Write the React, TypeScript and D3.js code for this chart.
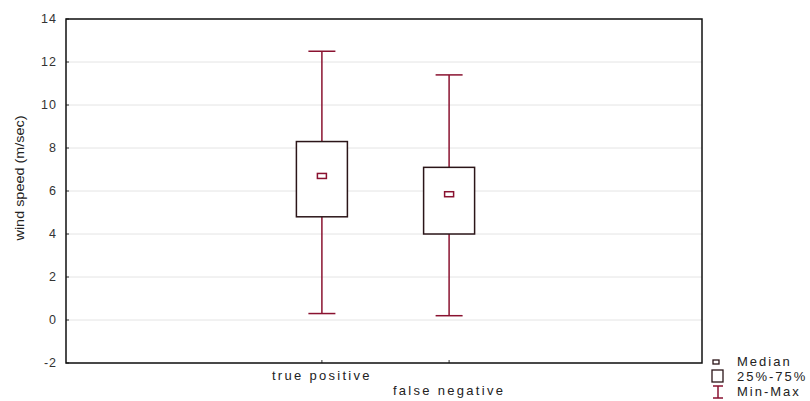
import React from 'react';
import * as d3 from 'd3';

// data
const categories = ['true positive', 'false negative'];
const minVals = [0.3, 0.2];
const q1Vals = [4.8, 4.0];
const medianVals = [6.7, 5.85];
const q3Vals = [8.3, 7.1];
const maxVals = [12.5, 11.4];
const yTicks = [-2, 0, 2, 4, 6, 8, 10, 12, 14];
const legendItems = ['Median', '25%-75%', 'Min-Max'];

const W = 810;
const H = 401;
const left = 66, right = 702, top = 19, bottom = 363;

const font = 'Arial, "Liberation Sans", sans-serif';
const red = '#8a1230';
const boxColor = '#2b1518';

const App = () => {
  const y = d3.scaleLinear().domain([-2, 14]).range([bottom, top]);
  // categories sit at slots 2 and 3 of a 5 slot axis
  const x = d3.scaleLinear().domain([0, 5]).range([left + 1.5, right + 1.5]);
  const boxW = 51;
  const capW = 27;

  return (
    <svg width={W} height={H} style={{ position: 'absolute', left: 0, top: 0, background: '#fff' }}
      fontFamily={font}>
      {/* grid */}
      {yTicks.map(t => (
        <line key={'g' + t} x1={left} x2={right} y1={y(t)} y2={y(t)} stroke="#e4e4e4" strokeWidth={1} />
      ))}
      {/* y ticks + labels */}
      {yTicks.map(t => (
        <g key={'t' + t}>
          <line x1={left} x2={left + 3} y1={y(t)} y2={y(t)} stroke="#333" />
          <text x={57} y={y(t) + 4} textAnchor="end" fontSize={12.5} letterSpacing={1} fill="#333">{t}</text>
        </g>
      ))}
      <text transform={`translate(24,${(top + bottom) / 2 - 13}) rotate(-90)`} textAnchor="middle"
        fontSize={12} fill="#222" textLength={125} lengthAdjust="spacingAndGlyphs">wind speed (m/sec)</text>

      {/* boxes */}
      {categories.map((c, i) => {
        const cx = x(i + 2);
        return (
          <g key={c}>
            <line x1={cx} x2={cx} y1={y(maxVals[i])} y2={y(q3Vals[i])} stroke={red} strokeWidth={1.5} />
            <line x1={cx} x2={cx} y1={y(q1Vals[i])} y2={y(minVals[i])} stroke={red} strokeWidth={1.5} />
            <line x1={cx - capW / 2} x2={cx + capW / 2} y1={y(maxVals[i])} y2={y(maxVals[i])} stroke={red} strokeWidth={1.5} />
            <line x1={cx - capW / 2} x2={cx + capW / 2} y1={y(minVals[i])} y2={y(minVals[i])} stroke={red} strokeWidth={1.5} />
            <rect x={cx - boxW / 2} y={y(q3Vals[i])} width={boxW} height={y(q1Vals[i]) - y(q3Vals[i])}
              fill="#fff" stroke={boxColor} strokeWidth={1.5} />
            <rect x={cx - 4.5} y={y(medianVals[i]) - 2.5} width={9} height={5} fill="#fff" stroke={red} strokeWidth={1.5} />
            <line x1={cx} x2={cx} y1={bottom} y2={bottom - 3} stroke="#333" />
            <text x={cx} y={i === 0 ? 380 : 395} textAnchor="middle" fontSize={13} fill="#222"
              letterSpacing={2.3}>{c}</text>
          </g>
        );
      })}

      {/* frame */}
      <rect x={left} y={top} width={right - left} height={bottom - top} fill="none" stroke="#111" strokeWidth={1.5} />

      {/* legend */}
      <g fontSize={13} fill="#222" letterSpacing={2}>
        <rect x={713} y={360} width={6} height={4} fill="#fff" stroke={boxColor} strokeWidth={1.3} />
        <text x={737} y={366}>{legendItems[0]}</text>
        <rect x={712} y={370} width={11} height={12} fill="#fff" stroke={boxColor} strokeWidth={1.3} />
        <text x={737} y={381}>{legendItems[1]}</text>
        <line x1={713} x2={723} y1={386} y2={386} stroke={red} strokeWidth={1.5} />
        <line x1={718} x2={718} y1={386} y2={398} stroke={red} strokeWidth={1.5} />
        <line x1={713} x2={723} y1={398} y2={398} stroke={red} strokeWidth={1.5} />
        <text x={737} y={396}>{legendItems[2]}</text>
      </g>
    </svg>
  );
};

export default App;
